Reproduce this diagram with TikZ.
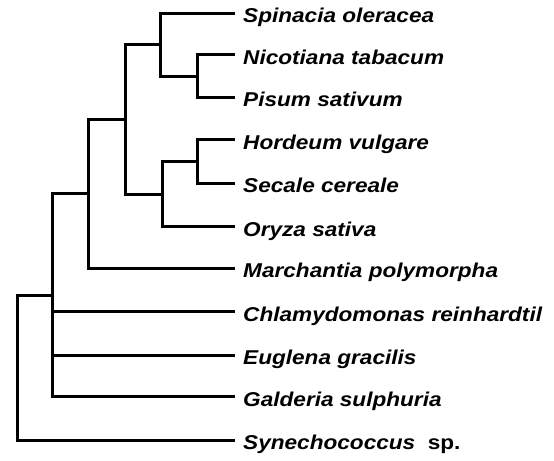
\documentclass[tikz,border=0pt]{standalone}
\usepackage{fontspec}
\newfontfamily\labfont[FakeStretch=1.13]{Liberation Sans}
\begin{document}
\begin{tikzpicture}[x=1bp,y=-1bp,
  branch/.style={line width=3bp, black},
  lab/.style={anchor=base west, inner sep=0pt, text=black,
    font=\labfont\bfseries\itshape\fontsize{20bp}{24bp}\selectfont}]
\useasboundingbox (0,0) rectangle (554,461);
% leaf ends
\coordinate (spiE) at (235,13.3);
\coordinate (nicE) at (235,55.0);
\coordinate (pisE) at (235,97.3);
\coordinate (horE) at (235,140.0);
\coordinate (secE) at (235,183.3);
\coordinate (oryE) at (235,226.7);
\coordinate (marE) at (235,268.3);
\coordinate (chlE) at (235,311.7);
\coordinate (eugE) at (235,355.0);
\coordinate (galE) at (235,396.7);
\coordinate (synE) at (235,440.0);
% internal nodes
\coordinate (np) at (197,76.2);
\coordinate (snp) at (160,44.8);
\coordinate (hs) at (197,161.7);
\coordinate (hso) at (162,194.2);
\coordinate (ang) at (125,119.5);
\coordinate (land) at (88,193.9);
\coordinate (pl) at (52,295.3);
\coordinate (root) at (17,367.6);
% labels
\node[lab] (spi) at (243,22.8) {Spinacia oleracea};
\node[lab] (nic) at (243,64.5) {Nicotiana tabacum};
\node[lab] (pis) at (243,106.8) {Pisum sativum};
\node[lab] (hor) at (243,149.5) {Hordeum vulgare};
\node[lab] (sec) at (243,192.8) {Secale cereale};
\node[lab] (ory) at (243,236.2) {Oryza sativa};
\node[lab] (mar) at (243,277.8) {Marchantia polymorpha};
\node[lab] (chl) at (243,321.2) {Chlamydomonas reinhardtil};
\node[lab] (eug) at (243,364.5) {Euglena gracilis};
\node[lab] (gal) at (243,406.2) {Galderia sulphuria};
\node[lab] (syn) at (243,449.5) {Synechococcus\ \ {\upshape sp.}};
% branches
\draw[branch] (np) |- (nicE);
\draw[branch] (np) |- (pisE);
\draw[branch] (snp) |- (spiE);
\draw[branch] (snp) |- (np);
\draw[branch] (hs) |- (horE);
\draw[branch] (hs) |- (secE);
\draw[branch] (hso) |- (hs);
\draw[branch] (hso) |- (oryE);
\draw[branch] (ang) |- (snp);
\draw[branch] (ang) |- (hso);
\draw[branch] (land) |- (ang);
\draw[branch] (land) |- (marE);
\draw[branch] (pl) |- (land);
\draw[branch] (pl) |- (chlE);
\draw[branch] (pl) |- (eugE);
\draw[branch] (pl) |- (galE);
\draw[branch] (root) |- (pl);
\draw[branch] (root) |- (synE);
\end{tikzpicture}
\end{document}
